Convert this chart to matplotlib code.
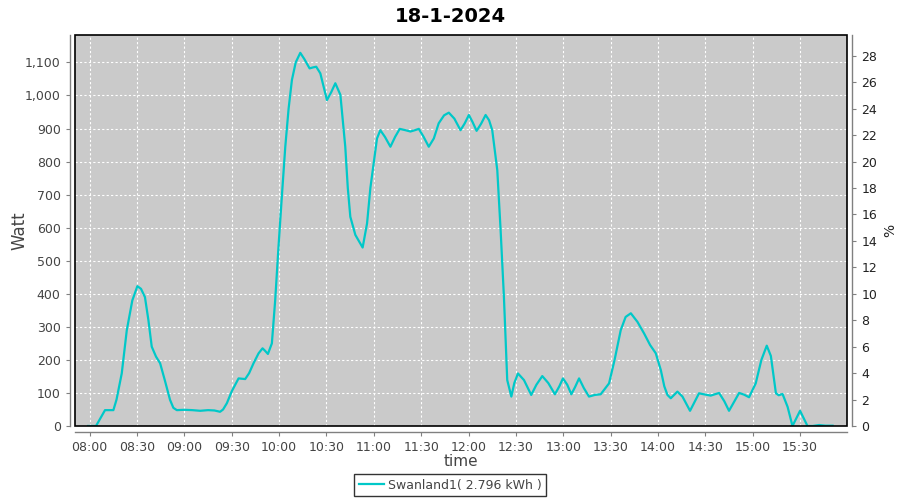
import numpy as np
import pandas as pd

import matplotlib
matplotlib.use('Agg')

import matplotlib.pyplot as plt
import matplotlib.dates as mdates
import matplotlib.ticker as ticker
from matplotlib.patches import Rectangle


#----------------------------------------------------------------
# Data: minutes after 08:00 and power readings (Watt)
#----------------------------------------------------------------
chart_title = "18-1-2024"
series_name = "Swanland1( 2.796 kWh )"
day_start = "2024-01-18 08:00"

minutes = [
    -1, 4, 7, 9.7, 15, 17, 20.3, 23.5, 27, 30.2, 32.5, 35, 37.2, 39.3, 42,
    44.6, 47.5, 50.9, 53, 55.2, 60, 65, 70, 75, 79, 82.6, 84.5, 86.9, 90,
    94.3, 98.5, 101, 103.8, 107, 109.5, 111, 112.9, 115.4, 117.5, 119.6,
    121.8, 123.9, 126, 128.1, 130.5, 133.4, 136, 139.3, 141.5, 143.5, 146.1,
    148, 150.3, 153, 155.6, 158.8, 161.9, 163.5, 165.1, 168.3, 172.9, 175.7,
    177.8, 179.9, 182, 184.1, 187, 190.5, 193.5, 196.4, 200, 203.2, 206,
    208.5, 211.5, 214.8, 218, 221.1, 224.5, 227.5, 231, 234.9, 237.5, 240.2,
    242.5, 245.1, 248, 250.8, 253, 255, 258.2, 260.3, 262.4, 264.5, 267.1,
    269, 271.3, 275.1, 279.7, 283, 286.7, 290.5, 294.7, 297.5, 299.8, 302.5,
    305.1, 307.5, 310, 313, 316.3, 320, 323.7, 329, 332.5, 336.4, 339.5,
    342.8, 347, 351.2, 355, 358.6, 361.8, 364, 366, 368.1, 372.3, 375.5,
    380.3, 386, 390, 393.4, 398.7, 402, 405, 411.4, 414.5, 417.7, 421.9,
    425.5, 428.9, 431.5, 434.7, 436.5, 438.9, 442.1, 445.2, 450, 454.7, 458,
    462.1, 466, 470.6,
]

watt = [
    0, 0, 25, 48, 48, 80, 159, 290, 380, 423, 415, 390, 320, 240, 210,
    190, 140, 79, 55, 48, 49, 48, 46, 48, 47, 43, 50, 69, 105,
    144, 142, 160, 190, 220, 235, 228, 218, 250, 380, 542,
    700, 845, 960, 1047, 1100, 1129, 1110, 1082, 1085, 1087, 1067,
    1030, 986, 1010, 1037, 1002, 845, 720, 633, 578, 540, 613,
    720, 795, 870, 895, 875, 845, 875, 899, 895, 891, 895,
    899, 875, 845, 870, 916, 940, 948, 930, 895, 915, 941,
    920, 893, 915, 941, 925, 895, 774, 593, 391, 139, 89,
    130, 159, 139, 94, 125, 151, 130, 96, 120, 144, 125,
    96, 118, 144, 115, 89, 94, 96, 129, 200, 290, 330,
    341, 315, 280, 245, 220, 169, 120, 94, 84, 104, 89,
    46, 99, 95, 92, 100, 75, 46, 100, 95, 87, 129,
    200, 243, 212, 99, 93, 97, 58, 0, 46, 0, 0,
    3, 1, 1,
]

watt_per_percent = 40.0      # right axis: % of 4 kW
y_top = 1183
x_range = (-9.1, 479.5)      # minutes after 08:00

line_color = '#00c8c8'
plot_bg = '#cacaca'
axis_grey = '#808080'
text_grey = '#444444'


#----------------------------------------------------------------
# Setup plot
#----------------------------------------------------------------
def to_dates(mins):
    base = pd.Timestamp(day_start)
    return base + pd.to_timedelta(np.asarray(mins, dtype=float), unit='m')


fig = plt.figure(figsize=(9, 5), dpi=100)
ax1 = fig.add_axes([0.0837, 0.148, 0.857, 0.782])
ax1.set_facecolor(plot_bg)

times = to_dates(minutes)
ax1.plot(times, watt, color=line_color, linewidth=1.6, label=series_name,
         solid_joinstyle='round', zorder=3)

xlo, xhi = to_dates(x_range)
ax1.set_xlim(xlo, xhi)
ax1.set_ylim(0, y_top)

# x axis: every half hour
ax1.xaxis.set_major_locator(mdates.MinuteLocator(byminute=[0, 30]))
ax1.xaxis.set_major_formatter(mdates.DateFormatter('%H:%M'))

# left axis: Watt
ax1.yaxis.set_major_locator(ticker.MultipleLocator(100))
ax1.yaxis.set_major_formatter(ticker.FuncFormatter(lambda v, p: '{:,.0f}'.format(v)))

ax1.grid(True, color='white', linestyle=(0, (2, 2)), linewidth=0.8, zorder=1)
ax1.set_axisbelow(True)

# right axis: %
ax2 = ax1.twinx()
ax2.set_ylim(0, y_top / watt_per_percent)
ax2.yaxis.set_major_locator(ticker.MultipleLocator(2))

for ax in (ax1, ax2):
    for side in ('left', 'right', 'bottom', 'top'):
        ax.spines[side].set_visible(False)
    ax.tick_params(colors=axis_grey, labelcolor=text_grey, labelsize=9,
                   length=3, width=0.8, direction='out')

for side, ax in (('left', ax1), ('bottom', ax1), ('right', ax2)):
    ax.spines[side].set_visible(True)
    ax.spines[side].set_position(('outward', 4))
    ax.spines[side].set_color(axis_grey)
    ax.spines[side].set_linewidth(1.0)

ax2.tick_params(axis='y', labelcolor='#222222')

# black outline round the plot area
ax1.add_patch(Rectangle((0, 0), 1, 1, transform=ax1.transAxes, fill=False,
                        edgecolor='black', linewidth=1.2, clip_on=False, zorder=5))

#****************
# labels
#****************
fig.suptitle(chart_title, fontsize=14, fontweight='bold', y=0.985)
ax1.set_ylabel("Watt", fontsize=12, color=text_grey)
ax1.yaxis.set_label_coords(-0.061, 0.5)
ax1.set_xlabel("time", fontsize=11, color=text_grey)
ax1.xaxis.set_label_coords(0.5, -0.072)
ax2.set_ylabel("%", fontsize=10, color='#222222')
ax2.yaxis.set_label_coords(1.047, 0.5)

#****************
# legend
#****************
h1, l1 = ax1.get_legend_handles_labels()
leg = fig.legend(h1, l1, loc='lower center', bbox_to_anchor=(0.5, 0.003),
                 fontsize=9, frameon=True, fancybox=False, handlelength=2.0,
                 handletextpad=0.3, borderpad=0.35, borderaxespad=0.2)
leg.get_frame().set_edgecolor('black')
leg.get_frame().set_linewidth(1.0)
for t in leg.get_texts():
    t.set_color(text_grey)

fig.savefig('out.png', dpi=100)
plt.close(fig)
